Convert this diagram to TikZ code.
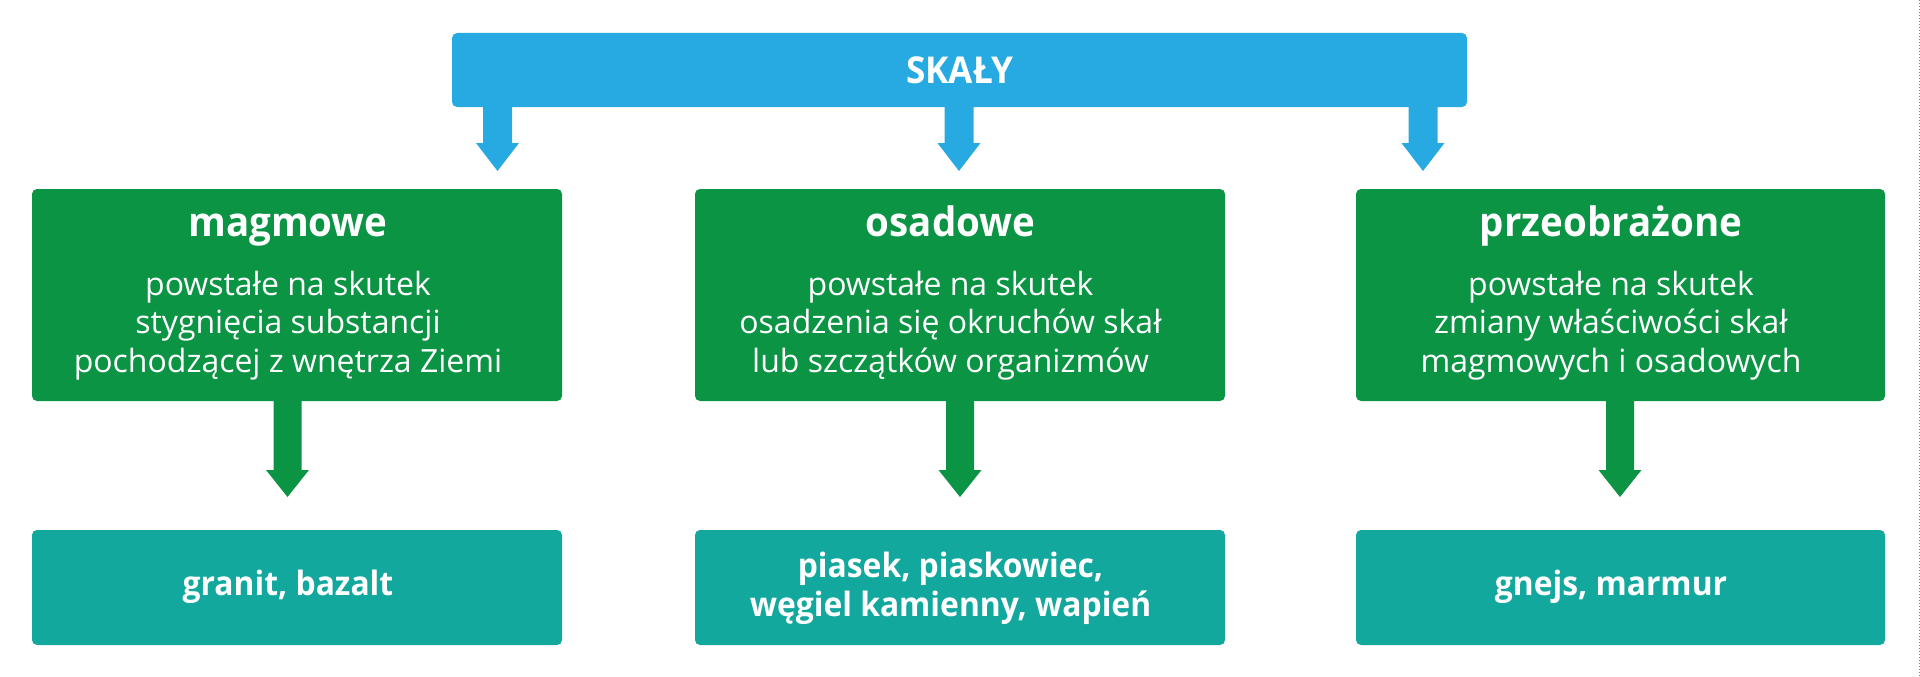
\documentclass[tikz,border=0pt]{standalone}
\usepackage{fontspec}
\setmainfont{Open Sans}
\newfontfamily\semifont{Open Sans}[FakeStretch=0.95]
\usetikzlibrary{calc}
\definecolor{skyb}{HTML}{27AAE1}
\definecolor{grn}{HTML}{0B9444}
\definecolor{tealc}{HTML}{13A89E}
\definecolor{edgec}{RGB}{160,110,125}
\newcommand\blkarrow[6]{%
  \fill[#1] ($(#3 |- #2.south)+(-#4,-1)$) -- ($(#3)+(-#4,-#6)$) -- ($(#3)+(-#5,-#6)$)
    -- (#3) -- ($(#3)+(#5,-#6)$) -- ($(#3)+(#4,-#6)$) -- ($(#3 |- #2.south)+(#4,-1)$) -- cycle;}
\tikzset{
  box/.style={rounded corners=5pt, inner sep=0pt, outer sep=0pt},
  topbox/.style={box, fill=skyb, minimum width=1015pt, minimum height=74pt},
  catbox/.style={box, fill=grn, minimum width=530pt, minimum height=212pt},
  exbox/.style={box, fill=tealc, minimum width=530pt, minimum height=115pt},
  titletext/.style={text=white, font=\fontsize{40.5}{48}\semifont\bfseries, inner sep=0pt, anchor=base},
  bodytext/.style={text=white, font=\fontsize{32}{38.25}\selectfont, align=center, inner sep=0pt},
  extext/.style={text=white, font=\fontsize{33.5}{39.3}\semifont\bfseries, align=center, inner sep=0pt},
  toptext/.style={text=white, font=\fontsize{37}{42}\semifont\bfseries, inner sep=0pt},
}
\begin{document}
\begin{tikzpicture}[x=1pt,y=-1pt]
\useasboundingbox (0,0) rectangle (1920,677);
% top
\node[topbox] (skaly) at (959.5,70) {};
\node[toptext] (skalyt) at (960,70) {SKAŁY};
% category boxes
\node[catbox] (mag) at (297,295) {};
\node[catbox] (osa) at (960,295) {};
\node[catbox, minimum width=529pt] (prz) at (1620.5,295) {};
\node[titletext] (magt) at (288,236) {magmowe};
\node[titletext] (osat) at (950.5,236) {osadowe};
\node[titletext] (przt) at (1611,236) {przeobrażone};
\node[bodytext] (magb) at (288,325.5) {powstałe na skutek\\stygnięcia substancji\\pochodzącej z wnętrza Ziemi};
\node[bodytext] (osab) at (950.5,325.5) {powstałe na skutek\\osadzenia się okruchów skał\\lub szczątków organizmów};
\node[bodytext] (przb) at (1611,325.5) {powstałe na skutek\\zmiany właściwości skał\\magmowych i osadowych};
% example boxes
\node[exbox] (mage) at (297,587.5) {};
\node[exbox] (osae) at (960,587.5) {};
\node[exbox, minimum width=529pt] (prze) at (1620.5,587.5) {};
\node[extext, anchor=base] (maget) at (288,595) {granit, bazalt};
\node[extext] (osaet) at (950.5,588) {piasek, piaskowiec,\\węgiel kamienny, wapień};
\node[extext, anchor=base] (przet) at (1611,595) {gnejs, marmur};
% arrow tips
\coordinate (b1) at (497.5,171);
\coordinate (b2) at (959,171);
\coordinate (b3) at (1423,171);
\coordinate (g1) at (287.5,497);
\coordinate (g2) at (960,497);
\coordinate (g3) at (1620,497);
\blkarrow{skyb}{skaly}{b1}{14.5}{21.5}{28}
\blkarrow{skyb}{skaly}{b2}{14.5}{21.5}{28}
\blkarrow{skyb}{skaly}{b3}{14.5}{21.5}{28}
\blkarrow{grn}{mag}{g1}{14}{21.5}{27}
\blkarrow{grn}{osa}{g2}{14}{21.5}{27}
\blkarrow{grn}{prz}{g3}{14}{21.5}{27}
% right edge dotted line
\coordinate (e1) at (1919.2,0);
\coordinate (e2) at (1919.2,677);
\draw[edgec, line width=0.8pt, dash pattern=on 1pt off 2pt] (e1) -- (e2);
\end{tikzpicture}
\end{document}
